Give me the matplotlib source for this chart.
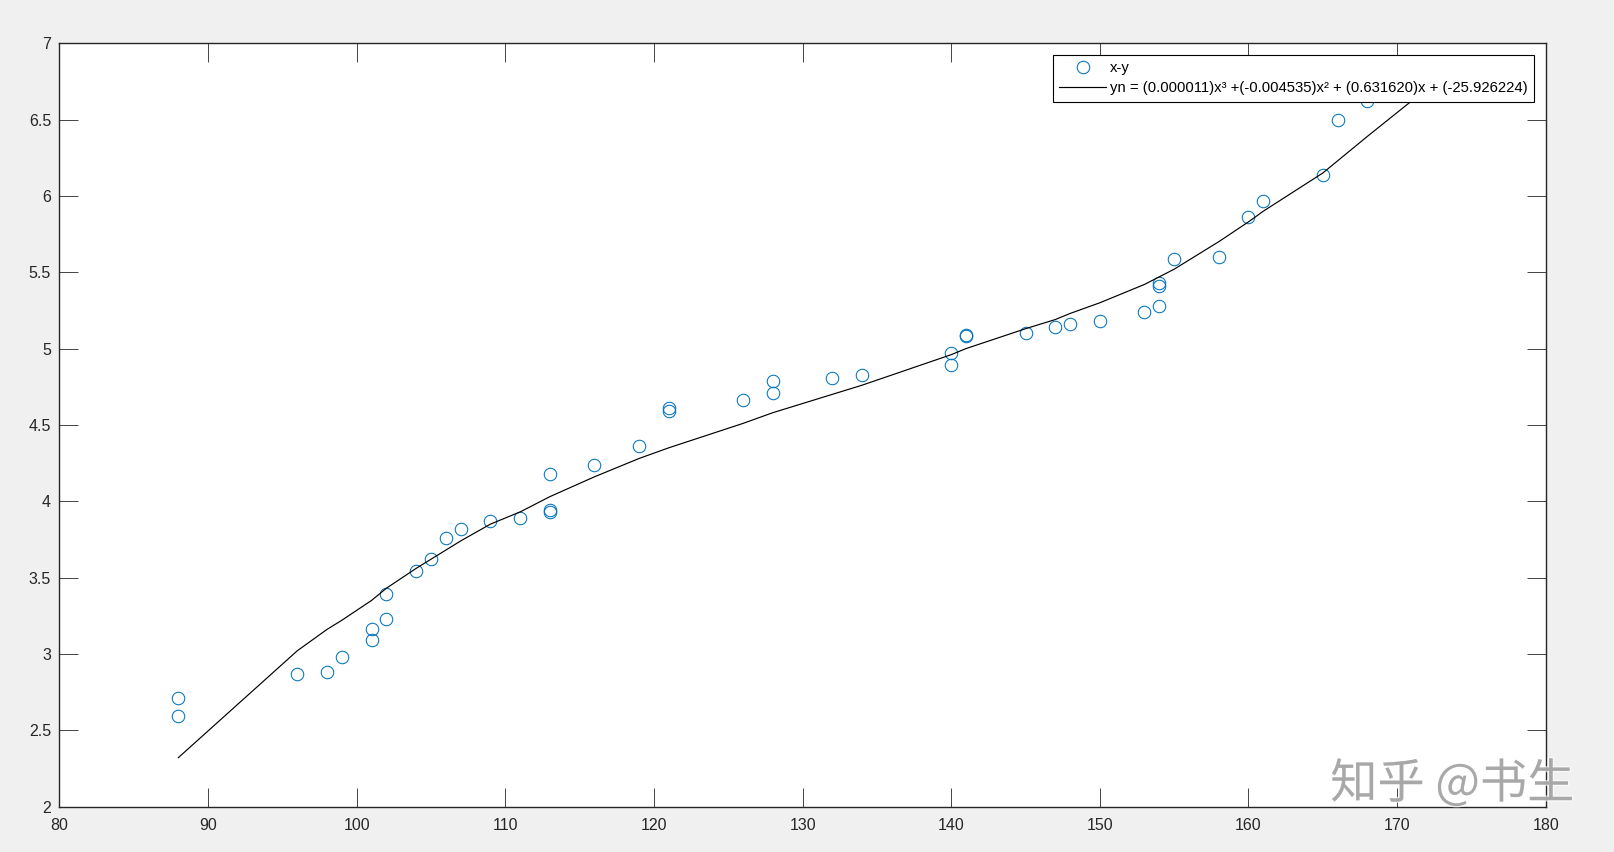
import matplotlib
matplotlib.use("Agg")
import matplotlib.pyplot as plt
import numpy as np
import matplotlib.patheffects as pe

# 散点数据
x_data = [88, 88, 96, 98, 99, 101, 101, 102, 102, 104, 105, 106, 107, 109, 111,
          113, 113, 113, 116, 119, 121, 121, 126, 128, 128, 132, 134, 140, 140,
          141, 141, 145, 147, 148, 150, 153, 154, 154, 154, 155, 158, 160, 161,
          165, 166, 168]
y_data = [2.71, 2.59, 2.87, 2.88, 2.98, 3.16, 3.09, 3.39, 3.23, 3.54, 3.62, 3.76,
          3.82, 3.87, 3.89, 4.18, 3.94, 3.93, 4.24, 4.36, 4.61, 4.59, 4.66, 4.79,
          4.71, 4.81, 4.83, 4.89, 4.97, 5.09, 5.08, 5.10, 5.14, 5.16, 5.18, 5.24,
          5.28, 5.43, 5.41, 5.59, 5.60, 5.86, 5.97, 6.14, 6.50, 6.62]

# 拟合曲线 (折线顶点, 从图上读取)
fit_x = [88, 96, 98, 99, 101, 102, 104, 105, 106, 107, 109, 111, 113, 116, 119,
         121, 126, 128, 132, 134, 140, 141, 145, 147, 148, 150, 153, 154, 155,
         158, 160, 161, 165, 166, 168, 173]
fit_y = [2.32, 3.02, 3.16, 3.22, 3.35, 3.43, 3.56, 3.62, 3.68, 3.74, 3.85, 3.93,
         4.03, 4.16, 4.28, 4.35, 4.51, 4.58, 4.70, 4.76, 4.96, 5.00, 5.13, 5.19,
         5.23, 5.30, 5.42, 5.47, 5.52, 5.70, 5.83, 5.90, 6.15, 6.23, 6.39, 6.78]

x_ticks = np.arange(80, 181, 10)
y_ticks = np.arange(2, 7.01, 0.5)
y_ticklabels = ['2', '2.5', '3', '3.5', '4', '4.5', '5', '5.5', '6', '6.5', '7']

label_pts = 'x-y'
label_fit = 'yn = (0.000011)x³ +(-0.004535)x² + (0.631620)x + (-25.926224)'

plt.rcParams['font.family'] = ['Liberation Sans', 'DejaVu Sans']

fig = plt.figure(figsize=(16.15, 8.52), dpi=100, facecolor='#f0f0f0')
ax = fig.add_axes([0.0368, 0.0534, 0.9203, 0.8958])
ax.set_facecolor('white')

ax.plot(x_data, y_data, 'o', markerfacecolor='none', markeredgecolor='#0072BD',
        markersize=9, markeredgewidth=0.75, label=label_pts)
ax.plot(fit_x, fit_y, '-', color='black', linewidth=0.85, label=label_fit)

ax.set_xlim(80, 180)
ax.set_ylim(2, 7)
ax.set_xticks(x_ticks)
ax.set_yticks(y_ticks)
ax.set_yticklabels(y_ticklabels)

# MATLAB 风格: 刻度朝内, 四边都有
ax.tick_params(direction='in', length=14, width=0.6, top=True, right=True,
               labelsize=11.5, colors='#262626')
ax.tick_params(axis='x', pad=8)
ax.tick_params(axis='y', pad=6)
for s in ax.spines.values():
    s.set_color('#262626')
    s.set_linewidth(1.0)

leg = ax.legend(loc='upper right', bbox_to_anchor=(0.9497, 0.9355),
                bbox_transform=fig.transFigure, borderaxespad=0,
                fancybox=False, framealpha=1, edgecolor='black',
                fontsize=10.7, handlelength=3.15, handletextpad=0.25,
                labelspacing=0.42, borderpad=0.42)
leg.get_frame().set_linewidth(0.8)

# 水印
fig.text(0.975, 0.079, '知乎 @书生', ha='right', va='center', fontsize=34,
         color='#a3a3a3', alpha=0.9,
         family=['Noto Sans CJK SC', 'DejaVu Sans'],
         path_effects=[pe.withStroke(linewidth=2, foreground='white', alpha=0.6)])

fig.savefig('out.png', dpi=100, facecolor=fig.get_facecolor())
